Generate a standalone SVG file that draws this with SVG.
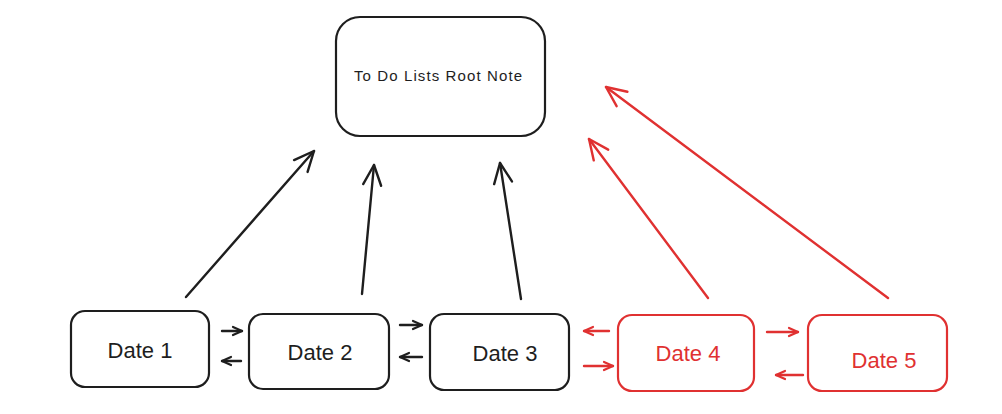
<svg xmlns="http://www.w3.org/2000/svg" width="1002" height="414" viewBox="0 0 1002 414">
<style>
.box{fill:#ffffff;stroke-width:2.2;stroke-linejoin:round}
.k{stroke:#1e1e1e}
.r{stroke:#e03131}
.t{font-family:"Liberation Sans",Arial,sans-serif;text-anchor:middle;dominant-baseline:central}
.tk{fill:#1e1e1e}
.tr{fill:#e03131}
.c{fill:none;stroke-width:2.4;stroke-linecap:round}
</style>
<defs>
<marker id="hk" markerUnits="userSpaceOnUse" viewBox="-22 -12 24 24" refX="0" refY="0" markerWidth="24" markerHeight="24" orient="auto">
<path d="M-20,-9 L0,0 L-20,9" fill="none" stroke="#1e1e1e" stroke-width="2.4" stroke-linecap="round" stroke-linejoin="round"/>
</marker>
<marker id="hr" markerUnits="userSpaceOnUse" viewBox="-22 -12 24 24" refX="0" refY="0" markerWidth="24" markerHeight="24" orient="auto">
<path d="M-20,-9 L0,0 L-20,9" fill="none" stroke="#e03131" stroke-width="2.4" stroke-linecap="round" stroke-linejoin="round"/>
</marker>
<marker id="sk" markerUnits="userSpaceOnUse" viewBox="-12 -7 14 14" refX="0" refY="0" markerWidth="14" markerHeight="14" orient="auto">
<path d="M-9,-4 L0,0 L-9,4" fill="none" stroke="#1e1e1e" stroke-width="2.2" stroke-linecap="round" stroke-linejoin="round"/>
</marker>
<marker id="sr" markerUnits="userSpaceOnUse" viewBox="-12 -7 14 14" refX="0" refY="0" markerWidth="14" markerHeight="14" orient="auto">
<path d="M-9,-4 L0,0 L-9,4" fill="none" stroke="#e03131" stroke-width="2.2" stroke-linecap="round" stroke-linejoin="round"/>
</marker>
</defs>
<rect width="1002" height="414" fill="#ffffff"/>
<g id="connectors">
<line class="c k" x1="186" y1="297" x2="314" y2="151" marker-end="url(#hk)"/>
<line class="c k" x1="362" y1="294" x2="374" y2="165" marker-end="url(#hk)"/>
<line class="c k" x1="521" y1="299" x2="500" y2="163" marker-end="url(#hk)"/>
<line class="c r" x1="708" y1="298" x2="589" y2="139" marker-end="url(#hr)"/>
<line class="c r" x1="888" y1="298" x2="606" y2="87" marker-end="url(#hr)"/>
<line class="c k" x1="222" y1="331" x2="242" y2="331" marker-end="url(#sk)"/>
<line class="c k" x1="241" y1="361" x2="222" y2="361" marker-end="url(#sk)"/>
<line class="c k" x1="400" y1="325" x2="422" y2="325" marker-end="url(#sk)"/>
<line class="c k" x1="422" y1="357" x2="400" y2="357" marker-end="url(#sk)"/>
<line class="c r" x1="609" y1="331" x2="584" y2="331" marker-end="url(#sr)"/>
<line class="c r" x1="584" y1="366" x2="613" y2="366" marker-end="url(#sr)"/>
<line class="c r" x1="767" y1="332" x2="798" y2="332" marker-end="url(#sr)"/>
<line class="c r" x1="803" y1="375" x2="776" y2="375" marker-end="url(#sr)"/>
</g>
<g id="root">
<rect class="box k" x="336" y="17" width="209" height="119" rx="24"/>
<text class="t tk" x="438" y="75" font-size="15" textLength="168" lengthAdjust="spacing">To Do Lists Root Note</text>
</g>
<g id="date1">
<rect class="box k" x="71" y="311" width="138" height="76" rx="14"/>
<text class="t tk" x="140" y="350" font-size="22">Date 1</text>
</g>
<g id="date2">
<rect class="box k" x="249" y="314" width="140" height="75" rx="14"/>
<text class="t tk" x="320" y="352" font-size="22">Date 2</text>
</g>
<g id="date3">
<rect class="box k" x="430" y="314" width="139" height="76" rx="14"/>
<text class="t tk" x="505" y="353" font-size="22">Date 3</text>
</g>
<g id="date4">
<rect class="box r" x="618" y="315" width="136" height="76" rx="14"/>
<text class="t tr" x="688" y="353" font-size="22">Date 4</text>
</g>
<g id="date5">
<rect class="box r" x="808" y="315" width="139" height="76" rx="14"/>
<text class="t tr" x="884" y="360" font-size="22">Date 5</text>
</g>
</svg>
